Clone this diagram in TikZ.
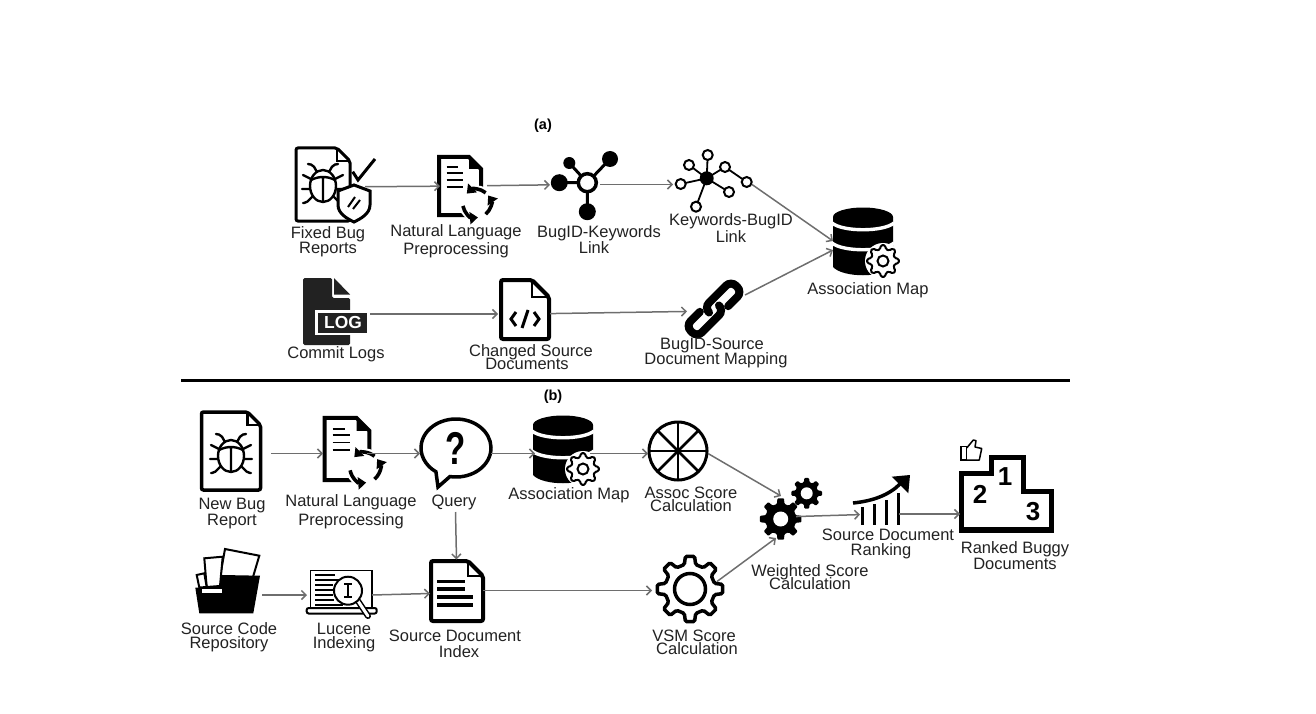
\documentclass[tikz,border=0pt]{standalone}
\usepackage{fontspec}
\setmainfont{Liberation Sans}
\usepackage{tikz}
\usetikzlibrary{arrows.meta,positioning}
\definecolor{ink}{HTML}{222222}
\definecolor{wire}{HTML}{6E6E6E}
\tikzset{
  pics/docicon/.style n args={4}{code={
    \draw[line width=#4,fill=white,rounded corners=2] (-#1/2,-#2/2) -- (#1/2-#3,-#2/2) -- (#1/2,-#2/2+#3) -- (#1/2,#2/2) -- (-#1/2,#2/2) -- cycle;
    \draw[line width=#4*0.7] (#1/2-#3,-#2/2) -- (#1/2-#3,-#2/2+#3) -- (#1/2,-#2/2+#3);
  }},
  pics/bugicon/.style={code={
    \draw[line width=2.4,line cap=round,rounded corners=2]
      (-6,-14) -- (-10,-21) -- (-15,-22) (6,-14) -- (10,-21) -- (15,-22)
      (-12,-7) -- (-20,-11) (12,-7) -- (20,-11)
      (-14,3) -- (-21,3) (14,3) -- (21,3)
      (-11,11) -- (-17,17) -- (-20,17) (11,11) -- (17,17) -- (20,17);
    \draw[line width=2.4,fill=white] (0,0) ellipse (13 and 16);
    \draw[line width=2.4] (-12,-6) .. controls (-4,-10) and (4,-10) .. (12,-6) (0,-8) -- (0,16);
  }},
  pics/nlpicon/.style={code={
    \draw[line width=4,fill=white] (-21,-29) -- (9,-29) -- (21,-17) -- (21,29) -- (-21,29) -- cycle;
    \fill (9,-29) -- (21,-17) -- (9,-17) -- cycle;
    \foreach \ly/\lx in {-19/-2,-13/3,-6/3,1/3} {\draw[line width=1.8] (-13.5,\ly) -- (\lx,\ly);}
    \fill[white] (16.7,17.5) circle (18);
    \foreach \s in {170,50,-50} {
      \draw[line width=3.6,-{Triangle[length=8pt,width=12pt]}] (16.7,17.5) ++(\s:14) arc (\s:\s-85:14);
    }
  }},
  pics/gearline/.style n args={3}{code={
    \draw[line width=#3,fill=white,rounded corners=1.5] (-8:#1)
      \foreach \a in {0,45,...,270} {-- (\a+8:#1) -- (\a+13:#1*0.76) -- (\a+32:#1*0.76) -- (\a+37:#1)}
      -- (323:#1) -- (328:#1*0.76) -- (347:#1*0.76) -- cycle;
    \draw[line width=#3] (0,0) circle (#2);
  }},
  pics/gearfill/.style n args={2}{code={
    \fill[rounded corners=1] (-9:#1)
      \foreach \a in {0,45,...,270} {-- (\a+9:#1) -- (\a+14:#1*0.74) -- (\a+31:#1*0.74) -- (\a+36:#1)}
      -- (324:#1) -- (329:#1*0.74) -- (346:#1*0.74) -- cycle;
    \fill[white] (0,0) circle (#2);
  }},
  pics/dbicon/.style={code={
    \fill (-30,-23) -- (30,-23) -- (30,27) .. controls (20,38) and (-20,38) .. (-30,27) -- cycle;
    \fill (0,-23) ellipse (30 and 9.5);
    \draw[white,line width=3.4] (-31,-17) .. controls (-20,-8) and (20,-8) .. (31,-17);
    \draw[white,line width=3.4] (-31,3) .. controls (-20,12) and (20,12) .. (31,3);
    \fill[white] (20,21) circle (18);
    \pic at (20,21) {gearline={16}{5.5}{2}};
  }}
}
\begin{document}
\begin{tikzpicture}[
  x=1pt,y=-1pt,
  ico/.style={inner sep=0pt,outer sep=0pt,minimum height=40pt},
  t/.style={align=center,text=ink,inner sep=0pt,yshift=-1.5pt,font=\fontsize{16.5}{15}\selectfont},
  h/.style={inner sep=0pt,yshift=-1.5pt,font=\bfseries\fontsize{14.5}{15}\selectfont},
  num/.style={inner sep=0pt,font=\bfseries\fontsize{26}{26}\selectfont},
  a/.style={-{Straight Barb[length=4.5pt,width=9pt]},draw=wire,line width=1.5pt}
]
  \useasboundingbox (0,0) rectangle (1316,714);

  \node[ico,minimum width=70pt] (fixed) at (330,187) {};
  \node[ico,minimum width=47pt,right=75pt of fixed,yshift=1pt] (nlpa) {};
  \node[ico,minimum width=50pt,right=63pt of nlpa,yshift=1.5pt] (hub) {};
  \node[ico,minimum width=79pt,right=73pt of hub] (kw) {};
  \node[ico,minimum width=60pt,minimum height=68pt] (dba) at (863,245) {};
  \node[ico,minimum width=68pt] (commit) at (336,314) {};
  \node[ico,minimum width=52pt,right=128pt of commit] (changed) {};
  \node[ico,minimum width=58pt,right=137pt of changed,yshift=3pt] (chain) {};

  \node[ico,minimum width=80pt] (newb) at (231,453.5) {};
  \node[ico,minimum width=44pt,right=52pt of newb] (nlpb) {};
  \node[ico,minimum width=71pt,minimum height=117pt,right=53pt of nlpb] (query) {};
  \node[ico,minimum width=55pt,right=44pt of query] (dbb) {};
  \node[ico,minimum width=60pt,right=58pt of dbb] (wheel) {};
  \node[ico,minimum width=30pt,minimum height=42pt] (gears) at (781,517) {};
  \node[ico,minimum width=39pt,right=64pt of gears,yshift=3pt] (rank) {};
  \node[ico,minimum width=92pt,right=61pt of rank] (podium) {};
  \node[ico,minimum width=66pt] (repo) at (229,595) {};
  \node[ico,minimum width=65pt,right=45pt of repo] (luc) {};
  \node[ico,minimum width=53pt,minimum height=62pt,right=58pt of luc,yshift=4.5pt] (index) {};
  \node[ico,minimum width=65pt,right=169pt of index] (vsm) {};

  \pic at (323,184.5) {docicon={54}{73}{13}{3}};
  \pic at (323,186) {bugicon};
  \draw[line width=3,fill=white] (354,185) -- (370,191) -- (370,205) .. controls (370,214) and (360,219) .. (354,222) .. controls (348,219) and (338,214) .. (338,205) -- (338,191) -- cycle;
  \draw[line width=2] (348,207) -- (355,197) (353,209) -- (360,200);
  \draw[line width=3] (352.7,171.7) -- (358,180) -- (375,159);
  \pic at (460,186) {nlpicon};
  \draw[line width=3] (587.3,182.7) -- (610,159) (587.3,182.7) -- (569.3,163) (587.3,182.7) -- (559.3,182.7) (587.3,182.7) -- (587.3,211.7);
  \fill (610,159) circle (8) (569.3,163) circle (6) (559.3,182.7) circle (8.5) (587.3,211.7) circle (8.5);
  \draw[line width=3.5,fill=white] (587.3,182.7) circle (9);
  \draw[line width=1.8] (706.7,178.3) -- (707.7,155) (706.7,178.3) -- (689,165) (706.7,178.3) -- (680.7,184) (706.7,178.3) -- (696,206.7) (706.7,178.3) -- (729,192) (706.7,178.3) -- (725,167) (725,167) -- (746.7,182);
  \fill (706.7,178.3) circle (7);
  \foreach \nx/\ny in {707.7/155,689/165,680.7/184,696/206.7,729/192,725/167,746.7/182} {
    \draw[line width=2,fill=white] (\nx,\ny) circle (5);
  }
  \pic at (863,240) {dbicon};
  \fill[ink,rounded corners=1.5] (303,278) -- (332,278) -- (332,298) -- (350,298) -- (350,345) -- (303,345) -- cycle;
  \fill[ink] (334,278) -- (350,294.5) -- (334,294.5) -- cycle;
  \fill[white] (315,310) rectangle (367,335);
  \fill[ink] (318,312.5) rectangle (367,333);
  \node[inner sep=0pt,text=white,font=\bfseries\fontsize{17.4}{18}\selectfont] (logT) at (343,322.5) {LOG};
  \pic at (525,309.5) {docicon={48}{59}{17}{4}};
  \draw[line width=3] (516,312) -- (511,319) -- (516,326) (534,312) -- (539,319) -- (534,326) (528,310) -- (522,328);
  \begin{scope}[shift={(714,309)},rotate=45]
    \draw[line width=8,line cap=round,rounded corners=7] (12,8) -- (32,8) -- (32,-8) -- (-6,-8) -- (-6,-1);
    \draw[line width=8,line cap=round,rounded corners=7] (-12,-8) -- (-32,-8) -- (-32,8) -- (6,8) -- (6,1);
  \end{scope}

  \pic at (231,451) {docicon={59}{78}{13}{3.5}};
  \pic at (231,456) {bugicon};
  \pic[scale=1.07] at (347,449) {nlpicon};
  \draw[line width=3.5,fill=white] (100:35 and 29) ++(456,448) arc (100:-235:35 and 29) -- (438,487) -- cycle;
  \node[inner sep=0pt,text=black,font=\bfseries\fontsize{46}{46}\selectfont] (qmark) at (456,448) {\scalebox{.72}[1]{?}};
  \pic at (563,448) {dbicon};
  \draw[line width=3] (678,451) circle (29);
  \foreach \a in {0,45,...,315} {\draw[line width=2.5] (678,451) -- ++(\a:29);}
  \draw[line width=2,fill=white] (225,549) -- (259.3,555.7) -- (253,577) -- (220,577) -- cycle;
  \draw[line width=2,fill=white] (204.3,558.3) -- (222.7,556.7) -- (220,586) -- (206.7,587) -- cycle;
  \draw[line width=2,fill=white] (196.7,575) -- (204.3,573.3) -- (206.7,587) -- (199.3,587.5) -- cycle;
  \fill (221.7,575) -- (260,575.7) -- (253.3,613.3) -- (199.3,613.3) -- (195.3,587.7) -- (219.3,586.7) -- cycle;
  \fill[white] (201.7,589.3) rectangle (221.7,593.3);
  \draw[line width=1.5,fill=white] (310.3,570.3) rectangle (372,608);
  \foreach \ly/\lx in {575/335,580/339,585/333,590/335,595/333,600/334,605/343} {\draw[line width=1.3] (315,\ly) -- (\lx,\ly);}
  \draw[line width=2,fill=white,rounded corners=2] (306.7,608) rectangle (376.7,613.5);
  \draw[line width=6,line cap=round] (358,601) -- (368,616);
  \draw[line width=3,line cap=round,white] (358,601) -- (368,616);
  \draw[line width=2,fill=white] (348,590.7) circle (14);
  \draw[line width=1.5] (348,584) -- (348,597) (344,584) -- (352,584) (344,597) -- (352,597);
  \pic at (457,591) {docicon={52}{60}{15}{4}};
  \draw[line width=3.5] (437,581.7) -- (465,581.7) (437,589) -- (465,589) (437,597) -- (473,597) (437,605) -- (473,605);
  \pic at (690,589) {gearline={33}{15.5}{3.5}};
  \pic at (780.7,519) {gearfill={21}{7.5}};
  \pic at (806.7,493.3) {gearfill={15.5}{6}};
  \draw[line width=3] (862.7,507) -- (862.7,525) (874,504) -- (874,525) (886.7,500) -- (886.7,525) (898.7,493) -- (898.7,525);
  \draw[line width=3.5] (853,503) .. controls (873,501) and (889,495) .. (900,484);
  \fill (891.7,476.7) -- (910,475) -- (908.3,493.3) -- cycle;
  \draw[line width=5.5] (961.7,473.3) -- (991.7,473.3) -- (991.7,457.3) -- (1023.3,457.3) -- (1023.3,491.7) -- (1051.7,491.7) -- (1051.7,530) -- (961.7,530) -- cycle;
  \node[num] (first) at (1005,476.7) {1};
  \node[num] (second) at (980,494) {2};
  \node[num] (third) at (1033,511.7) {3};
  \draw[line width=1.5] (961,446.7) rectangle (966.7,460);
  \draw[line width=1.5,line join=round] (966.7,448) -- (973.3,440) -- (976,440.7) -- (975,447) -- (981.7,448.5) -- (979.3,460) -- (966.7,460);

  \draw[a] (fixed) -- (nlpa);
  \draw[a] (nlpa) -- (hub);
  \draw[a] (hub) -- (kw);
  \draw[a] (kw.east) -- ([yshift=4pt]dba.west);
  \draw[a] (commit) -- (changed);
  \draw[a] (changed) -- (chain);
  \draw[a] ([yshift=16pt]chain.east) -- ([yshift=-5pt]dba.west);
  \draw[a] (newb) -- (nlpb);
  \draw[a] (nlpb) -- (query);
  \draw[a] (query) -- (dbb);
  \draw[a] (dbb) -- (wheel);
  \draw[a] (wheel.east) -- (gears.north);
  \draw[a] (query.south) -- (index.north);
  \draw[a] (repo) -- (luc);
  \draw[a] (luc.east) -- ([yshift=-3pt]index.west);
  \draw[a] (index) -- (vsm);
  \draw[a] ([yshift=9pt]vsm.east) -- ([xshift=-5pt]gears.south);
  \draw[a] (gears) -- (rank);
  \draw[a] (rank) -- (podium);

  \draw[line width=3pt] (181,380) coordinate (ruleL) -- (1070,380) coordinate (ruleR);
  \node[h] (partA) at (543,124) {(a)};
  \node[h] (partB) at (553,395) {(b)};

  \node[t] (fixedT) at (328,240.5) {Fixed Bug\\Reports};
  \node[t] (nlpaT) at (456,239.5) {Natural Language\\[2pt]Preprocessing};
  \node[t] (hubT) at (599,238) {BugID-Keywords\\\hspace*{-10pt}Link};
  \node[t] (kwT) at (731,226.5) {Keywords-BugID\\Link};
  \node[t] (dbaT) at (868,289) {Association Map};
  \node[t] (commitT) at (336,353) {Commit Logs};
  \node[t] (changedT) at (531,355.5) {Changed Source\\[-2pt]\hspace*{-8pt}Documents};
  \node[t] (chainT) at (716,351.5) {\hspace*{-8pt}BugID-Source\\[-1pt]Document Mapping};

  \node[t] (newbT) at (232,512) {New Bug\\[1pt]Report};
  \node[t] (nlpbT) at (351,510) {Natural Language\\[3pt]Preprocessing};
  \node[t] (queryT) at (454,501) {Query};
  \node[t] (dbbT) at (569,494) {Association Map};
  \node[t] (wheelT) at (691,497.5) {Assoc Score\\[-2pt]Calculation};
  \node[t] (gearsT) at (810,575.5) {Weighted Score\\[-4pt]Calculation};
  \node[t] (rankT) at (888,542.5) {Source Document\\\hspace*{-14pt}Ranking};
  \node[t] (podiumT) at (1015,554) {Ranked Buggy\\[1pt]Documents};
  \node[t] (repoT) at (229,636) {Source Code\\[-1pt]Repository};
  \node[t] (lucT) at (344,636) {Lucene\\[-1pt]Indexing};
  \node[t] (indexT) at (455,642) {Source Document\\[1pt]\hspace*{8pt}Index};
  \node[t] (vsmT) at (694,640.5) {VSM Score\\[-2pt]\hspace*{6pt}Calculation};
\end{tikzpicture}
\end{document}
